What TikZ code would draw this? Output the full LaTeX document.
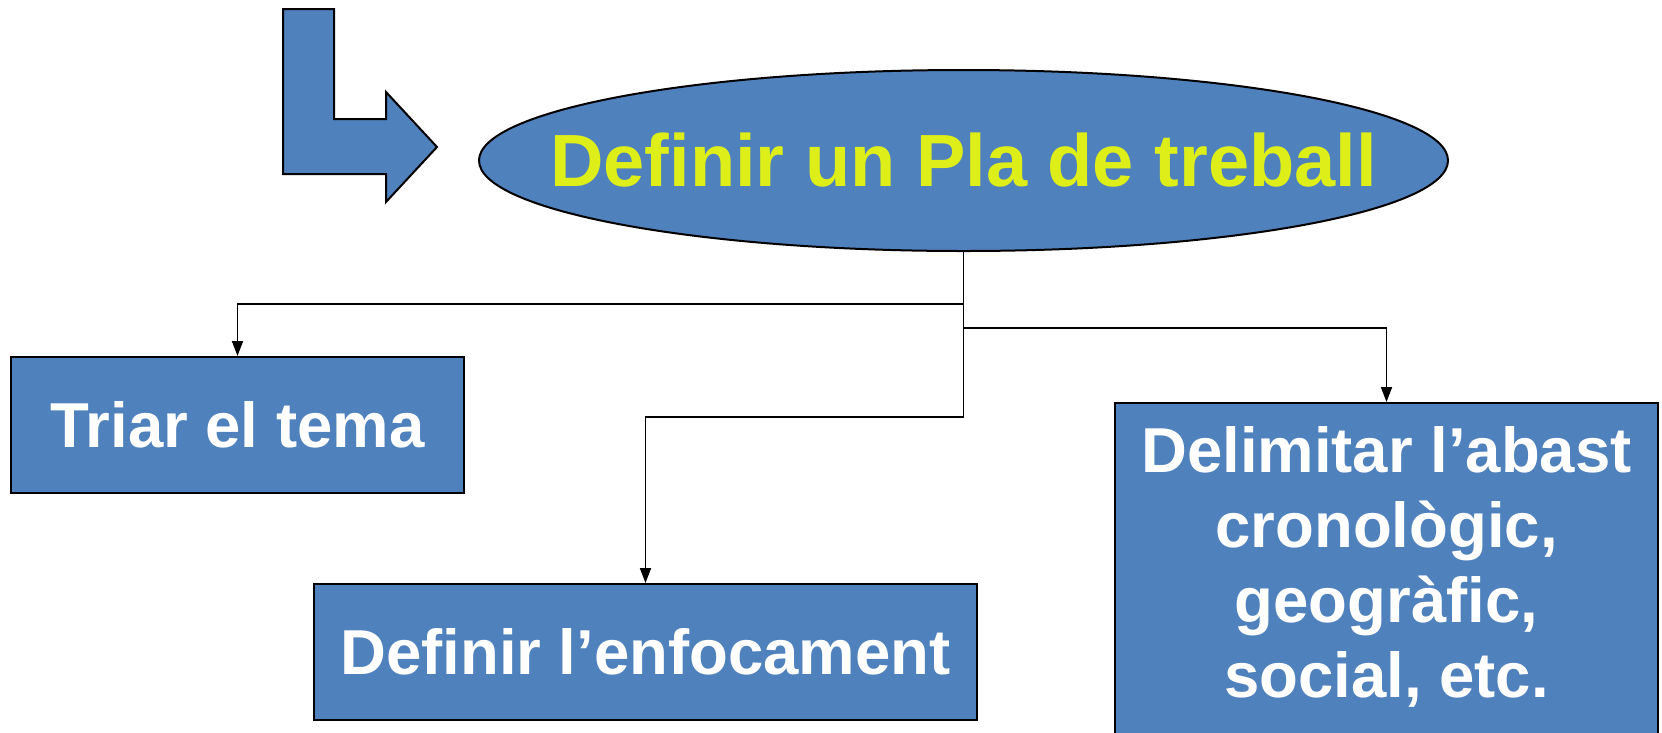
\documentclass[tikz,border=0pt]{standalone}
\usepackage{fontspec}
\setmainfont{Liberation Sans}
\usetikzlibrary{arrows.meta,shapes.geometric}
\definecolor{boxblue}{RGB}{79,129,189}
\definecolor{titleyellow}{RGB}{222,238,24}
\tikzset{
  shapebox/.style={draw=black, line width=2pt, fill=boxblue, text=white, inner sep=0pt,
    font=\fontsize{63.5}{75}\selectfont\bfseries, align=center},
  conn/.style={draw=black, line width=1.8pt, -{Triangle[length=15pt,width=11pt]}},
}
\begin{document}
\begin{tikzpicture}[x=1pt,y=-1pt]
\useasboundingbox (0,0) rectangle (1662,732);
\clip (0,0) rectangle (1662,732);
% bent arrow
\draw[line width=2pt, fill=boxblue, line join=miter]
  (283,9) -- (334,9) -- (334,119) -- (386,119) -- (386,92) -- (437,147)
  -- (386,202) -- (386,174) -- (283,174) -- cycle;
% title ellipse
\node[shapebox, ellipse, minimum width=969pt, minimum height=181pt, text=titleyellow,
  font=\fontsize{74}{80}\selectfont\bfseries] (plan) at (963.5,160.5) {\makebox[0pt]{Definir un Pla de treball}};
% boxes
\node[shapebox, minimum width=453pt, minimum height=136pt] (triar) at (237.5,425) {Triar el tema};
\node[shapebox, minimum width=663pt, minimum height=136pt] (enf) at (645.5,652) {Definir l’enfocament};
\node[shapebox, minimum width=543pt, minimum height=342pt, text depth=24pt] (del) at (1386.5,574)
  {Delimitar l’abast\\ cronològic,\\ geogràfic,\\ social, etc.};
% connectors
\draw[conn] (plan.south |- 0,304) -| (triar.north);
\draw[conn] (plan.south |- 0,328) -| (del.north);
\draw[conn] (plan.south) |- (enf.north |- 0,417) -- (enf.north);
\end{tikzpicture}
\end{document}
